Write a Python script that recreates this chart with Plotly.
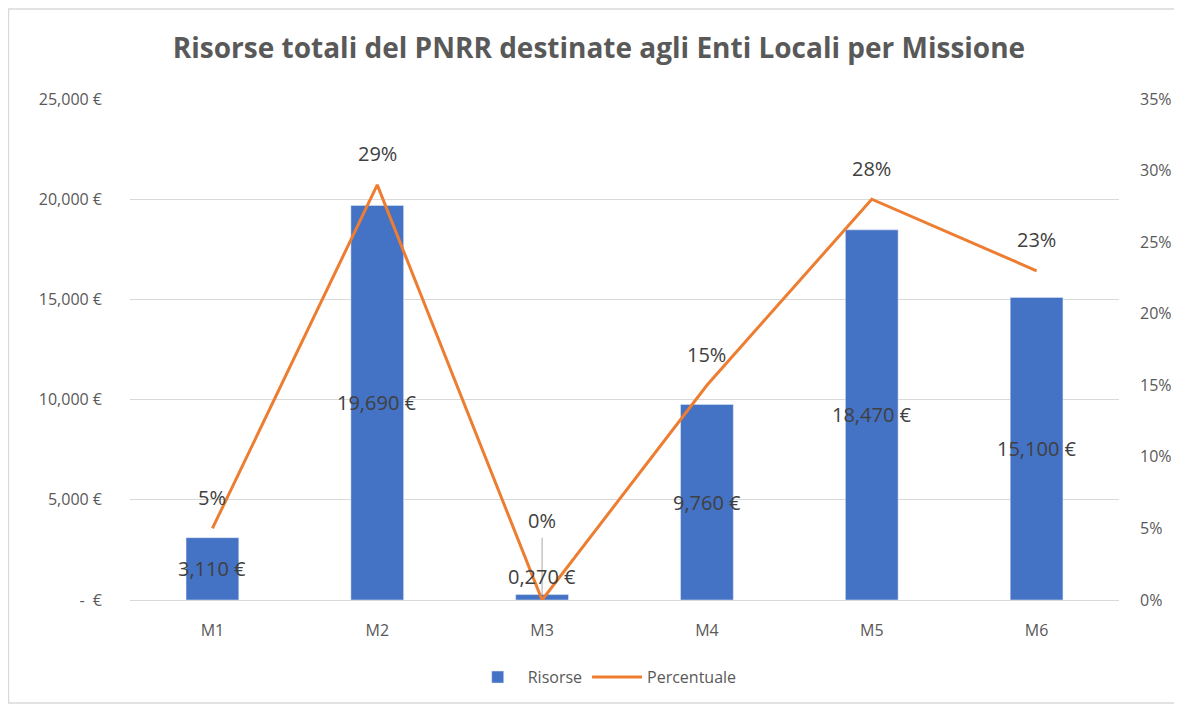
import plotly.graph_objects as go

categories = ["M1", "M2", "M3", "M4", "M5", "M6"]
risorse = [3110, 19690, 270, 9760, 18470, 15100]
risorse_labels = ["3,110 €", "19,690 €", "0,270 €", "9,760 €", "18,470 €", "15,100 €"]
percentuale = [0.05, 0.29, 0.0, 0.15, 0.28, 0.23]
perc_labels = ["5%", "29%", "0%", "15%", "28%", "23%"]
left_tickvals = [0, 5000, 10000, 15000, 20000, 25000]
left_ticktext = ["-  €", "5,000 €", "10,000 €", "15,000 €", "20,000 €", "25,000 €"]
right_tickvals = [0, 0.05, 0.10, 0.15, 0.20, 0.25, 0.30, 0.35]
right_ticktext = ["0%", "5%", "10%", "15%", "20%", "25%", "30%", "35%"]

FONT = "Open Sans"
GRAY = "#595959"
LABEL = "#404040"

fig = go.Figure()
fig.add_trace(go.Bar(x=categories, y=risorse, name="Risorse", marker_color="#4472C4",
                     width=0.32, yaxis="y"))
fig.add_trace(go.Scatter(x=categories, y=percentuale, name="Percentuale", mode="lines",
                         line=dict(color="#ED7D31", width=3), yaxis="y2", cliponaxis=False))

annotations = []
# bar labels centered in bars
for c, v, t in zip(categories, risorse, risorse_labels):
    if v < 1500:
        annotations.append(dict(x=c, y=0, xref="x", yref="y", text=t, showarrow=False,
                                yshift=24, font=dict(size=20, color=LABEL, family=FONT)))
    else:
        annotations.append(dict(x=c, y=v / 2, xref="x", yref="y", text=t, showarrow=False,
                                font=dict(size=20, color=LABEL, family=FONT)))
# percentage labels above line points
for c, p, t in zip(categories, percentuale, perc_labels):
    shift = 80 if p < 0.01 else 31
    annotations.append(dict(x=c, y=p, xref="x", yref="y2", text=t, showarrow=False,
                            yshift=shift, font=dict(size=20, color=LABEL, family=FONT)))

shapes = [
    # leader line for M3
    dict(type="line", xref="x", yref="y", x0="M3", x1="M3", y0=100, y1=3100,
         line=dict(color="#a6a6a6", width=1), layer="below"),
    # chart border
    dict(type="rect", xref="paper", yref="paper", x0=-0.1229, x1=1.0566, y0=-0.2056, y1=1.1796,
         line=dict(color="#d9d9d9", width=1.5), fillcolor="rgba(0,0,0,0)"),
]

fig.update_layout(
    width=1182, height=709,
    margin=dict(l=122, r=71, t=91, b=117),
    paper_bgcolor="white", plot_bgcolor="white",
    title=dict(text="<b>Risorse totali del PNRR destinate agli Enti Locali per Missione</b>",
               x=0.5, xanchor="center", y=0.9436, yanchor="middle",
               font=dict(size=28, color=GRAY, family=FONT)),
    font=dict(family=FONT, color=GRAY, size=16),
    xaxis=dict(showgrid=False, showline=False, ticks="", tickfont=dict(size=16, color=GRAY),
               ticklabelstandoff=19),
    yaxis=dict(range=[0, 25000], tickvals=left_tickvals, ticktext=left_ticktext,
               showgrid=True, gridcolor="#d9d9d9", gridwidth=1, zeroline=True,
               zerolinecolor="#d9d9d9", zerolinewidth=1, showline=False,
               tickfont=dict(size=16, color=GRAY), ticklabelstandoff=27),
    yaxis2=dict(range=[0, 0.35], tickvals=right_tickvals, ticktext=right_ticktext,
                overlaying="y", side="right", showgrid=False, zeroline=False, showline=False,
                tickfont=dict(size=16, color=GRAY), ticklabelstandoff=20),
    legend=dict(orientation="h", x=0.48, xanchor="center", y=-0.154, yanchor="middle",
                itemwidth=50, font=dict(size=16, color=GRAY, family=FONT)),
    annotations=annotations,
    shapes=shapes,
    showlegend=True,
)

fig.write_html("out.html")
